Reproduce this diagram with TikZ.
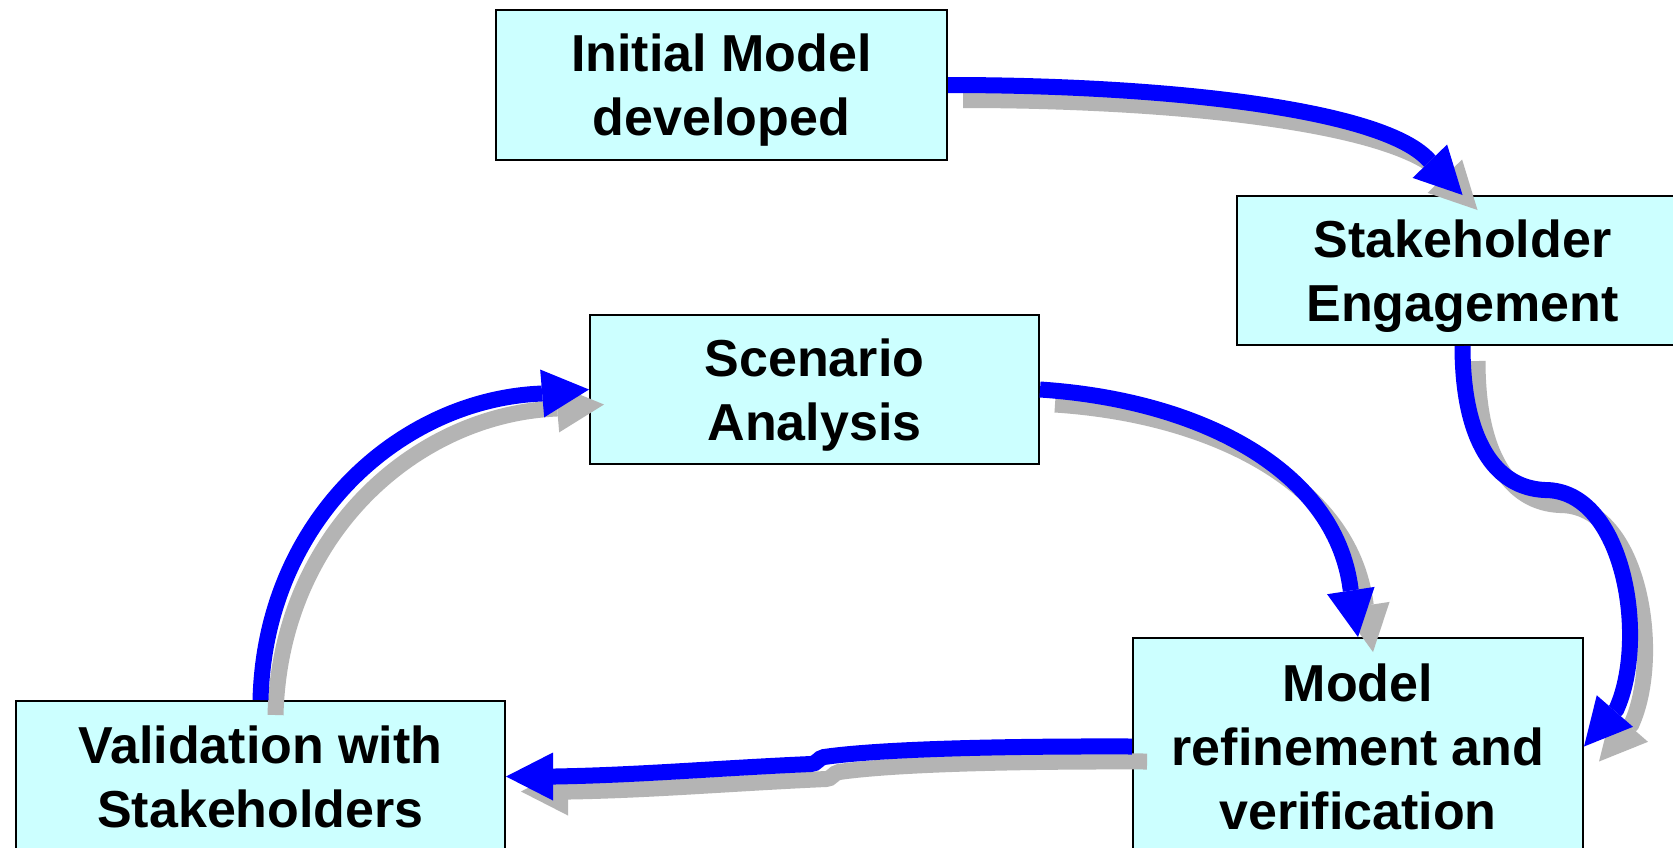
\documentclass[tikz,border=0pt]{standalone}
\usepackage{fontspec}
\setmainfont{Liberation Sans}
\usetikzlibrary{arrows.meta}
\definecolor{boxfill}{RGB}{204,255,255}
\definecolor{arrowblue}{RGB}{0,0,255}
\definecolor{shadowgray}{RGB}{180,180,180}
\newcommand\boxtext[1]{\begin{tabular}[t]{@{}c@{}}#1\end{tabular}}
\newcommand\drawconnectors[1]{%
  \draw[#1] (init.east) .. controls (1160,85) and (1380,108) .. (1428,159.3) -- (stake.north);
  \draw[#1] (stake.south) .. controls (1462.5,440) and (1495,488) .. (1545,490)
        .. controls (1625,490) and (1648,640) .. (1616.4,709.3) -- (model.east);
  \draw[#1] (scen.east) .. controls (1200,400) and (1335,470) .. (1350.5,588.5) -- (model.north);
  \draw[#1] (model.west) .. controls (1000,746) and (880,749) .. (824,757)
        .. controls (818,758) and (817,764) .. (811,764)
        .. controls (720,768) and (640,775) .. (555,776.5) -- (valid.east);
  \draw[#1] (valid.north) .. controls (265,520) and (400,400) .. (540.2,393.6) -- (scen.west);
}
\begin{document}
\begin{tikzpicture}[x=1pt,y=-1pt,
  box/.style={draw=black, line width=2pt, fill=boxfill, inner sep=0pt,
    font=\fontsize{52}{64}\selectfont\bfseries, text height=37.5pt},
  twolines/.style={text depth=64pt},
  threelines/.style={text depth=128pt},
  blueconn/.style={draw=arrowblue, line width=16pt,
    -{Triangle[length=47pt,width=48pt,line width=0pt]}},
  shadowconn/.style={draw=shadowgray, line width=16pt,
    -{Triangle[length=47pt,width=48pt,line width=0pt]}}]
\useasboundingbox (0,0) rectangle (1673,847);
\fill[white] (0,0) rectangle (1673,847);
\clip (0,0) rectangle (1673,847);
\node[box,twolines,minimum width=451pt,minimum height=150pt] (init) at (721.5,85)
  {\boxtext{Initial Model\\developed}};
\node[box,twolines,minimum width=451pt,minimum height=149pt] (stake) at (1462.5,270.5)
  {\boxtext{Stakeholder\\Engagement}};
\node[box,twolines,minimum width=449pt,minimum height=149pt] (scen) at (814.5,389.5)
  {\boxtext{Scenario\\Analysis}};
\node[box,threelines,minimum width=450pt,minimum height=217pt] (model) at (1358,746.5)
  {\boxtext{Model\\refinement and\\verification}};
\node[box,twolines,minimum width=489pt,minimum height=151pt] (valid) at (260.5,776.5)
  {\boxtext{Validation with\\Stakeholders}};
\begin{scope}[transform canvas={shift={(15pt,-15pt)}}]
  \drawconnectors{shadowconn}
\end{scope}
\drawconnectors{blueconn}
\end{tikzpicture}
\end{document}
